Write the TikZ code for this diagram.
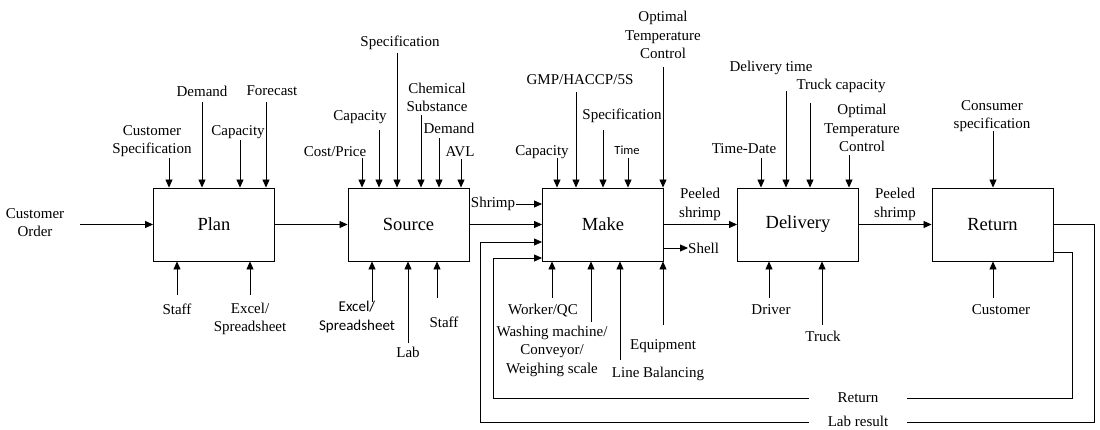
\documentclass[tikz,border=0pt]{standalone}
\usepackage{fontspec}
\setmainfont{Liberation Serif}
\newfontfamily\sansf{Carlito}
\usetikzlibrary{arrows.meta,calc}
\tikzset{
  arr/.style={draw=black,line width=0.8pt,-{Triangle[length=8pt,width=7pt]}},
  ln/.style={draw=black,line width=0.8pt},
  box/.style={draw=black,line width=0.9pt,minimum width=121pt,minimum height=73pt,inner sep=0pt,font=\fontsize{18.5}{22}\selectfont},
  lbl/.style={align=center,inner sep=1pt,font=\fontsize{15}{18.5}\selectfont},
  slbl/.style={align=center,inner sep=1pt,font=\sansf\fontsize{15}{19}\selectfont},
  gap/.style={lbl,fill=white,minimum width=98pt,inner sep=0pt}
}
\newcommand{\topin}[4]{\coordinate (#1) at (#2,#3); \draw[arr] (#1) -- (#1 |- #4.north);}
\newcommand{\botin}[4]{\coordinate (#1) at (#2,#3); \draw[arr] (#1) -- (#1 |- #4.south);}
\begin{document}
\begin{tikzpicture}[x=1pt,y=-1pt]
\useasboundingbox (0,0) rectangle (1100,430);
% boxes
\node[box] (plan) at (214,224.5) {Plan};
\node[box] (source) at (408.5,224.5) {Source};
\node[box] (make) at (603,224.5) {Make};
\node[box] (delivery) at (798,224.5) {Delivery};
\node[box] (return) at (992.5,224.5) {Return};

% ---- Plan
\node[lbl] (corder) at (35,222.5) {Customer\\Order};
\coordinate (co) at (80,224.5);
\draw[arr] (co) -- (plan.west);
\node[lbl] (pcs) at (152,141) {Customer\\Specification};
\node[lbl] (pdem) at (202,91) {Demand};
\node[lbl] (pfor) at (272,91) {Forecast};
\node[lbl] (pcap) at (238,132) {Capacity};
\topin{p1}{169}{158}{plan}
\topin{p2}{202}{102}{plan}
\topin{p3}{240}{140}{plan}
\topin{p4}{266}{102}{plan}
\node[lbl] (pstaff) at (177,309) {Staff};
\node[lbl] (pexcel) at (250,319) {Excel/\\Spreadsheet};
\botin{p5}{177}{295}{plan}
\botin{p6}{250}{295}{plan}
\draw[arr] (plan.east) -- (source.west);

% ---- Source
\node[lbl] (scost) at (335,152) {Cost/Price};
\node[lbl] (scap) at (360,117) {Capacity};
\node[lbl] (sspec) at (400,43) {Specification};
\node[lbl] (schem) at (437,97.5) {Chemical\\Substance};
\node[lbl] (sdem) at (449,128) {Demand};
\node[lbl] (savl) at (460,152) {AVL};
\topin{s1}{362}{158}{source}
\topin{s2}{379}{130}{source}
\topin{s3}{397}{53}{source}
\topin{s4}{421}{115}{source}
\topin{s5}{439}{138}{source}
\topin{s6}{461}{159}{source}
\node[slbl] (sexcel) at (357,317.5) {Excel/\\Spreadsheet};
\node[lbl] (slab) at (408,352) {Lab};
\node[lbl] (sstaff) at (444,322) {Staff};
\botin{s7}{372}{302}{source}
\botin{s8}{408}{343}{source}
\botin{s9}{437}{298}{source}
\draw[arr] (source.east) -- (make.west);
\node[lbl] (shrimp) at (493,204) {Shrimp};
\draw[arr] (shrimp.east) -- (shrimp.east -| make.west);

% ---- Make
\node[lbl] (mcap) at (542,152) {Capacity};
\node[lbl] (mgmp) at (580,80) {GMP/HACCP/5S};
\node[lbl] (mspec) at (622,116) {Specification};
\node[slbl,font=\sansf\fontsize{12.5}{15}\selectfont] (mtime) at (627,150) {Time};
\node[lbl] (mopt) at (663,35) {Optimal\\Temperature\\Control};
\topin{m1}{557}{158}{make}
\topin{m2}{576}{92}{make}
\topin{m3}{603}{130}{make}
\topin{m4}{628}{158}{make}
\topin{m5}{663}{67}{make}
\node[lbl] (mwork) at (543,311) {Worker/QC};
\node[lbl] (mwash) at (552,351) {Washing machine/\\Conveyor/\\Weighing scale};
\node[lbl] (mequip) at (663,346) {Equipment};
\node[lbl] (mline) at (658,374) {Line Balancing};
\botin{m6}{552}{298}{make}
\botin{m7}{591}{322}{make}
\botin{m8}{620}{360}{make}
\botin{m9}{663}{325}{make}
\draw[arr] (make.east) -- (delivery.west);
\node[lbl] (mps) at (700,204.5) {Peeled\\shrimp};
\node[lbl,anchor=west,inner sep=0pt] (shell) at (688,248) {Shell};
\draw[arr] (shell.west -| make.east) -- (shell.west);

% ---- Delivery
\node[lbl] (dtd) at (744,149) {Time-Date};
\node[lbl] (ddt) at (771,68) {Delivery time};
\node[lbl] (dtc) at (841,86) {Truck capacity};
\node[lbl] (dopt) at (862,128) {Optimal\\Temperature\\Control};
\topin{d1}{761}{158}{delivery}
\topin{d2}{786}{91}{delivery}
\topin{d3}{810}{103}{delivery}
\topin{d4}{849}{155}{delivery}
\node[lbl] (ddriver) at (771,310) {Driver};
\node[lbl] (dtruck) at (823,336) {Truck};
\botin{d5}{769}{298}{delivery}
\botin{d6}{822}{325}{delivery}
\draw[arr] (delivery.east) -- (return.west);
\node[lbl] (dps) at (895,204.5) {Peeled\\shrimp};

% ---- Return
\node[lbl] (rcs) at (992,116) {Consumer\\specification};
\topin{r1}{993}{131}{return}
\node[lbl] (rcust) at (1001,310) {Customer};
\botin{r2}{993}{298}{return}

% ---- feedback loops
\coordinate (lbr) at (1094,422);
\coordinate (lbl) at (480,422);
\draw[arr] (return.east) -| (lbr) -- (lbl) |- ($(make.west)+(0,17.5)$);
\coordinate (rtr) at (1072,398);
\coordinate (rtl) at (493,398);
\draw[arr] ($(return.east)+(0,27.5)$) -| (rtr) -- (rtl) |- ($(make.west)+(0,33.5)$);
\node[gap] (retlbl) at (858,398) {Return};
\node[gap] (lablbl) at (858,421) {Lab result};
\end{tikzpicture}
\end{document}
